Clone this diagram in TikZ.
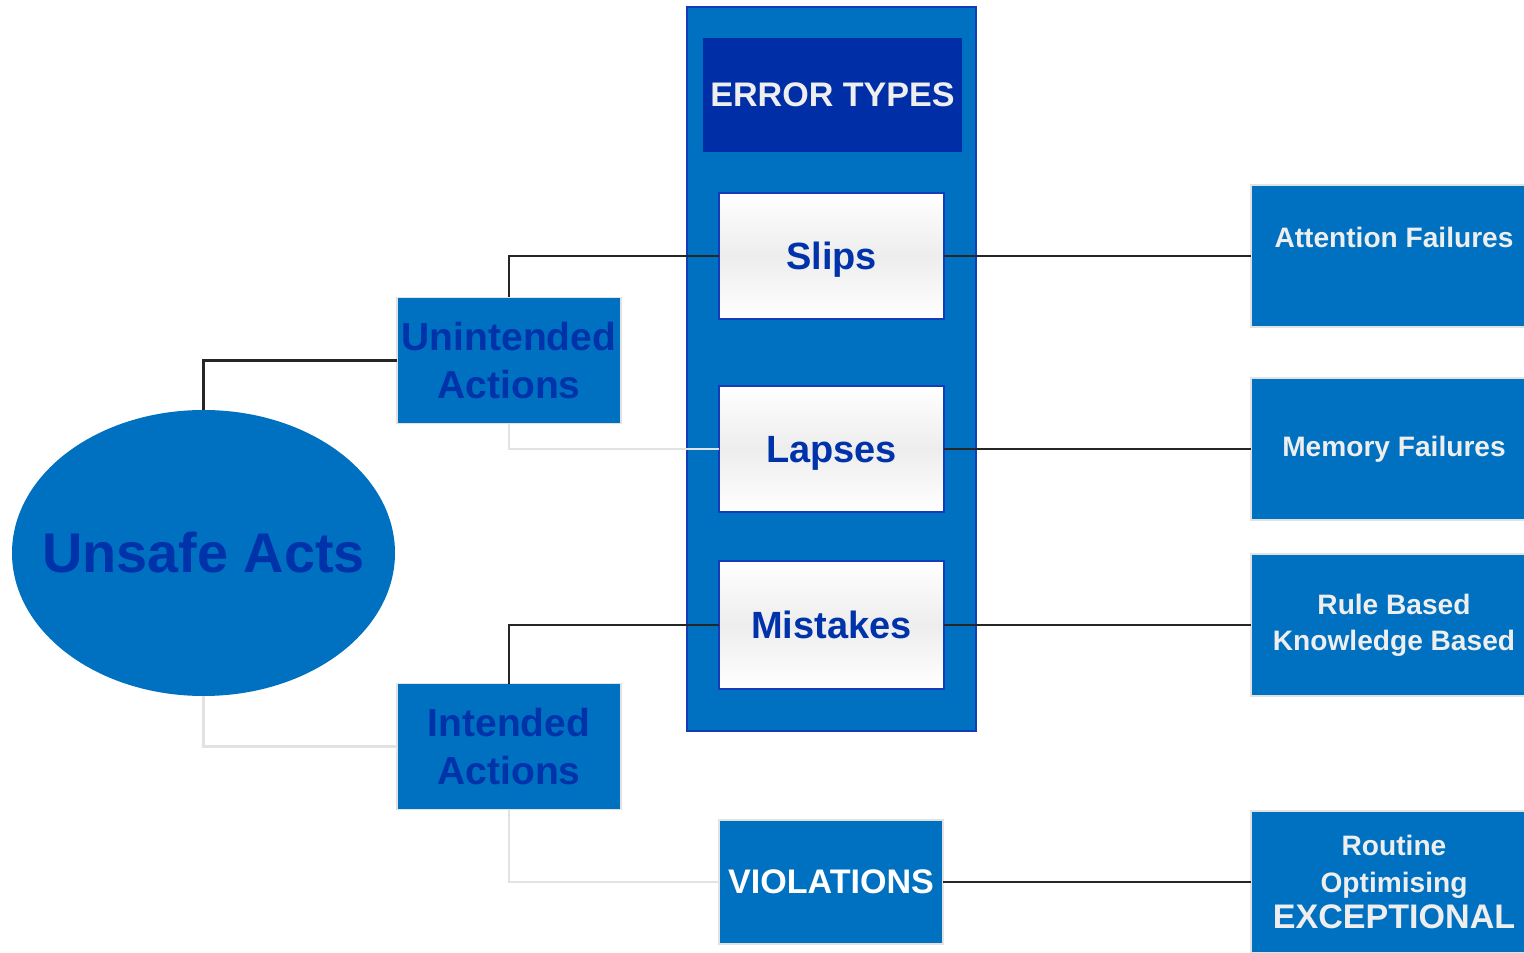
\documentclass[tikz,border=0pt]{standalone}
\usepackage{fontspec}
\setmainfont{Liberation Sans}
\usetikzlibrary{shapes.geometric}
\definecolor{midblue}{RGB}{0,112,192}
\definecolor{darkblue}{RGB}{0,46,166}
\definecolor{inkblue}{RGB}{0,50,170}
\definecolor{rimblue}{RGB}{20,60,185}
\definecolor{paleline}{RGB}{226,226,226}
\definecolor{offwhite}{RGB}{238,238,238}

\begin{document}
\begin{tikzpicture}
\tikzset{every node/.style={inner sep=0pt, outer sep=0pt},
    panelbox/.style={draw=rimblue, fill=midblue, line width=0.6pt},
    headbox/.style={fill=darkblue, text=offwhite, minimum width=2.59cm, minimum height=1.14cm,
        font=\fontsize{9.7}{11}\selectfont\bfseries},
    typebox/.style={draw=rimblue, line width=0.6pt, top color=white, bottom color=white,
        middle color=gray!14, text=inkblue, minimum width=2.25cm, minimum height=1.26cm,
        text depth=0pt, font=\fontsize{10.8}{13}\selectfont\bfseries},
    actbox/.style={draw=paleline, fill=midblue, text=inkblue, align=center,
        minimum width=2.24cm, minimum height=1.26cm, font=\fontsize{11.1}{13.7}\selectfont\bfseries},
    actsshape/.style={shape=ellipse, fill=midblue, minimum width=3.83cm, minimum height=2.86cm},
    violbox/.style={draw=paleline, fill=midblue, text=white, minimum width=2.24cm,
        minimum height=1.24cm, font=\fontsize{9.7}{11}\selectfont\bfseries},
    causebox/.style={draw=paleline, fill=midblue, text=offwhite, align=center,
        minimum width=2.86cm, minimum height=1.42cm, font=\fontsize{8}{10.3}\selectfont\bfseries},
    blackline/.style={draw=black!85, line width=0.6pt},
    greyline/.style={draw=paleline, line width=0.6pt}
}
    \useasboundingbox (0,0) rectangle (15.24,-9.53);

    \node[panelbox, minimum width=2.89cm, minimum height=7.24cm] (panel) at (8.315,-3.69) {};
    \node[headbox] (head) at (8.325,-0.95) {ERROR TYPES};
    \node[typebox] (slips) at (8.315,-2.56) {Slips};
    \node[typebox] (lapses) at (8.315,-4.49) {Lapses};
    \node[typebox, minimum height=1.28cm] (mistakes) at (8.315,-6.25) {Mistakes};

    \node[actbox] (unint) at (5.09,-3.605) {Unintended\\Actions};
    \node[actbox] (intend) at (5.09,-7.465) {Intended\\Actions};
    \node[actsshape] (unsafe) at (2.035,-5.53) {};
    \node[text=inkblue, font=\fontsize{15.9}{19}\selectfont\bfseries] (unsafetxt) at (unsafe) {Unsafe Acts};
    \node[violbox] (viol) at (8.31,-8.82) {VIOLATIONS};

    \node[causebox] (att) at (13.94,-2.56) {};
    \node[text=offwhite, font=\fontsize{8}{10}\selectfont\bfseries] (atttxt) at ([yshift=-0.52cm]att.north) {Attention Failures};
    \node[causebox] (mem) at (13.94,-4.49) {Memory Failures};
    \node[causebox] (rule) at (13.94,-6.25) {Rule Based\\Knowledge Based};
    \node[causebox] (rout) at (13.94,-8.82) {Routine\\Optimising\\{\fontsize{9.7}{11}\selectfont EXCEPTIONAL}};

    \draw[blackline] (slips.west) -| (unint.north);
    \draw[blackline] (unint.west) -| (unsafe.north);
    \draw[greyline] (unint.south) |- (lapses.west);
    \draw[blackline] (mistakes.west) -| (intend.north);
    \draw[greyline] (unsafe.south) |- (intend.west);
    \draw[greyline] (intend.south) |- (viol.west);

    \draw[blackline] (slips.east) -- (att.west);
    \draw[blackline] (lapses.east) -- (mem.west);
    \draw[blackline] (mistakes.east) -- (rule.west);
    \draw[blackline] (viol.east) -- (rout.west);
\end{tikzpicture}
\end{document}
